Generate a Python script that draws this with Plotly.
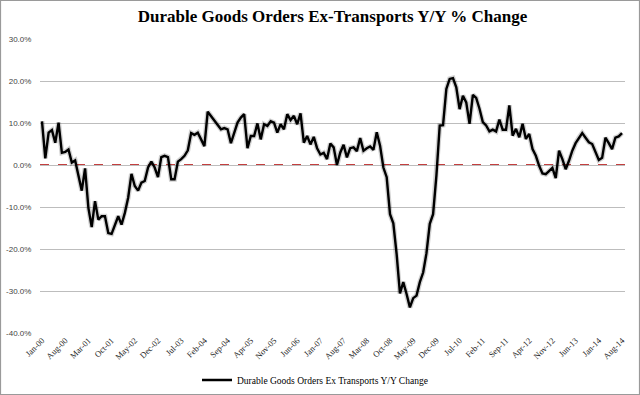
import pandas as pd
import plotly.graph_objects as go

# Monthly Y/Y % change, Jan-2000 .. Aug-2014
values = [
    10.4, 1.6, 7.7, 8.3, 5.3, 10.1, 2.9, 3.1, 3.7, 0.6, 1.1, -2.6,
    -6.1, -0.8, -10.2, -14.8, -8.6, -13.0, -12.2, -12.2, -16.2, -16.4, -14.2, -12.2,
    -14.2, -11.4, -7.8, -2.1, -5.0, -6.1, -4.2, -3.8, -0.6, 0.8, -0.6, -2.9,
    1.9, 2.2, 1.9, -3.4, -3.4, 0.8, 1.4, 2.2, 3.5, 7.6, 7.2, 7.7,
    6.1, 4.5, 12.7, 11.7, 10.7, 9.7, 8.5, 8.8, 8.5, 5.2, 7.7, 10.1,
    11.3, 12.1, 4.0, 6.9, 6.9, 9.9, 6.1, 9.7, 9.3, 10.4, 10.1, 7.7,
    9.7, 8.5, 12.1, 10.7, 11.7, 9.7, 12.3, 5.3, 6.9, 4.9, 6.7, 4.0,
    2.5, 2.9, 1.4, 5.1, 4.2, 0.0, 3.0, 4.8, 1.8, 4.0, 4.2, 3.3,
    6.4, 3.4, 4.0, 4.4, 3.6, 7.8, 4.6, -0.6, -2.9, -11.7, -13.9, -21.2,
    -30.6, -27.9, -30.7, -33.9, -31.7, -31.1, -27.9, -25.6, -21.0, -14.0, -11.7, -2.5,
    9.4, 9.5, 18.1, 20.5, 20.7, 18.5, 13.3, 16.5, 14.9, 9.8, 16.7, 16.0,
    13.4, 10.2, 9.4, 8.0, 8.4, 8.0, 10.8, 8.4, 8.4, 14.2, 7.0, 8.6,
    6.6, 9.8, 6.2, 7.4, 3.8, 2.2, -0.2, -2.0, -2.2, -1.4, -0.7, -3.1,
    3.4, 1.4, -1.0, 1.0, 3.4, 5.2, 6.5, 7.6, 6.5, 5.4, 5.0, 3.0,
    1.2, 1.7, 6.5, 5.2, 3.8, 6.5, 6.8, 7.6,
]
months = [d.strftime("%b-%y") for d in pd.date_range("2000-01-01", periods=len(values), freq="MS")]
tick_labels = months[::7]
y_ticks = [30, 20, 10, 0, -10, -20, -30, -40]
y_tick_text = ["30.0%", "20.0%", "10.0%", "0.0%", "-10.0%", "-20.0%", "-30.0%", "-40.0%"]
series_name = "Durable Goods Orders Ex Transports Y/Y Change"
title_text = "Durable Goods Orders Ex-Transports Y/Y % Change"

W, H = 640, 395
ML, MR, MT, MB = 40, 15, 39, 62
PW, PH = W - ML - MR, H - MT - MB

fig = go.Figure()
# soft shadow under the line
fig.add_trace(go.Scatter(x=months, y=values, mode="lines",
                         line=dict(color="rgba(0,0,0,0.18)", width=5),
                         showlegend=False, hoverinfo="skip"))
fig.add_trace(go.Scatter(x=months, y=values, mode="lines", name=series_name,
                         line=dict(color="black", width=2.4)))

fig.update_layout(
    width=W, height=H,
    margin=dict(l=ML, r=MR, t=MT, b=MB, pad=0, autoexpand=False),
    paper_bgcolor="white", plot_bgcolor="white",
    title=dict(text="<b>" + title_text + "</b>", x=0.5, xref="paper", xanchor="center",
               y=1 - 16 / H, yanchor="middle",
               font=dict(family="Liberation Serif", size=17, color="black")),
    showlegend=True,
    legend=dict(orientation="h", x=(197 - ML) / PW, xanchor="left",
                y=-(380 - (H - MB)) / PH, yanchor="middle",
                font=dict(family="Liberation Serif", size=9.5, color="black"),
                bgcolor="rgba(0,0,0,0)", itemwidth=30),
    xaxis=dict(type="category", range=[-0.6, len(values) - 0.1], automargin=False,
               tickmode="array", tickvals=tick_labels, ticktext=tick_labels,
               tickangle=-45, tickfont=dict(family="Liberation Serif", size=8.5, color="#222"),
               showgrid=False, showline=False, zeroline=False, ticks=""),
    yaxis=dict(range=[-40, 30], automargin=False, tickmode="array", tickvals=y_ticks, ticktext=y_tick_text,
               tickfont=dict(family="Liberation Sans", size=8, color="#444"),
               showgrid=True, gridcolor="#bdbdbd", gridwidth=1, zeroline=False,
               showline=False, ticks="outside", ticklen=6, tickcolor="white"),
    shapes=[
        dict(type="line", xref="paper", yref="y", x0=0, x1=1, y0=0, y1=0,
             line=dict(color="white", width=2), layer="between"),
        dict(type="line", xref="paper", yref="y", x0=0, x1=1, y0=0, y1=0,
             line=dict(color="#b00000", width=1.6, dash="dash"), layer="between"),
        dict(type="rect", xref="paper", yref="paper",
             x0=(0.5 - ML) / PW, x1=(W - 0.5 - ML) / PW,
             y0=-(MB - 0.5) / PH, y1=1 + (MT - 0.5) / PH,
             line=dict(color="#9a9a9a", width=1.2)),
    ],
)

fig.write_html("out.html", config={"displayModeBar": False},
               post_script="document.body.style.margin='0';")
